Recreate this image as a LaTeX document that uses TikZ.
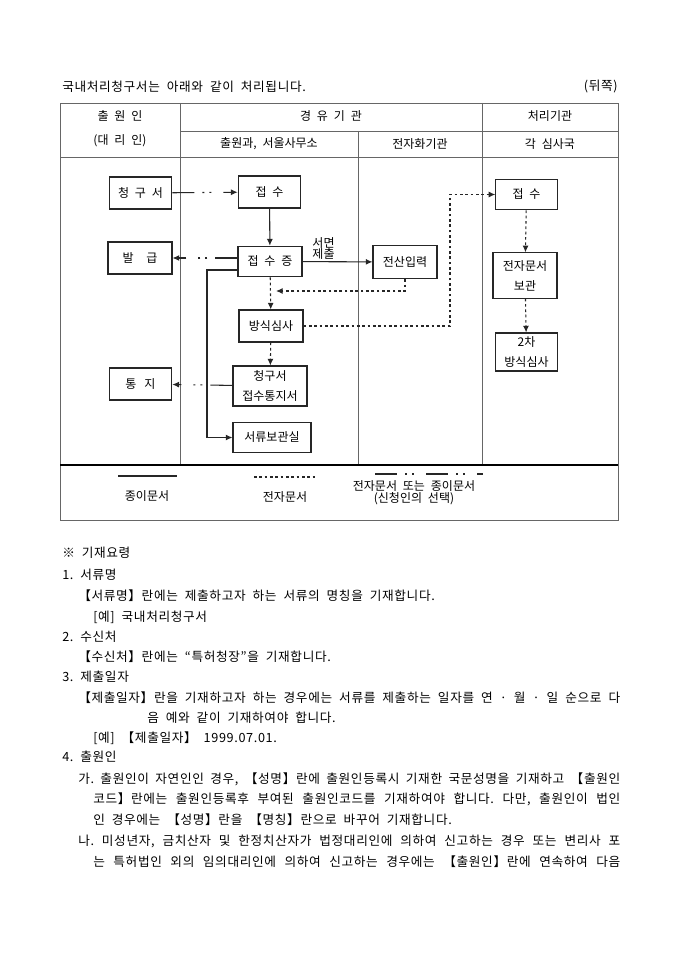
\documentclass[tikz,border=0pt]{standalone}
\usepackage{fontspec}
\setmainfont[WordSpace=2.2]{Noto Sans CJK KR}
\newfontfamily\bodyfont[WordSpace=2, LetterSpace=5]{Noto Sans CJK KR}
\frenchspacing
\usetikzlibrary{arrows.meta, positioning}
\tikzset{
  box/.style={draw=black!85, line width=0.8pt, fill=white, minimum width=47pt, minimum height=24pt,
    inner sep=1pt, align=center, font=\fontsize{9}{15}\selectfont},
  paper/.style={line width=0.8pt, draw=black!85},
  edoc/.style={line width=0.8pt, draw=black!85, dash pattern=on 2pt off 2pt},
  either/.style={line width=0.8pt, draw=black!85, dash pattern=on 16.5pt off 6pt on 1.5pt off 3.75pt on 1.5pt off 9pt},
  arr/.style={-{Latex[length=5pt,width=4.5pt]}},
  tableline/.style={line width=0.7pt, draw=black!60},
  txt/.style={anchor=west, inner sep=0pt, font=\bodyfont\fontsize{9.5}{12}\selectfont},
  cell/.style={inner sep=0pt, font=\fontsize{9}{12}\selectfont},
}

\begin{document}
\begin{tikzpicture}[x=0.75pt, y=-0.75pt]
  \useasboundingbox[fill=white] (0,0) rectangle (680,962);

  \node[txt] (title) at (62,87) {국내처리청구서는 아래와 같이 처리됩니다.};
  \node[txt, anchor=east] (side) at (618,87) {(뒤쪽)};

  % table
  \draw[tableline] (60,103) rectangle (618,520);
  \draw[tableline] (180,131) -- (618,131);
  \draw[tableline] (60,157) -- (618,157);
  \draw[tableline] (180,103) -- (180,465);
  \draw[tableline] (358,131) -- (358,465);
  \draw[tableline] (482,103) -- (482,465);
  \draw[line width=1.1pt] (60,465) -- (618,465);

  \node[cell] (h1) at (120,116) {출 원 인};
  \node[cell] (h2) at (120,141) {(대 리 인)};
  \node[cell] (h3) at (331,116) {경 유 기 관};
  \node[cell] (h4) at (550,116) {처리기관};
  \node[cell] (h5) at (269,144) {출원과, 서울사무소};
  \node[cell] (h6) at (420,144) {전자화기관};
  \node[cell] (h7) at (550,144) {각 심사국};

  % boxes
  \node[box] (req) at (140.5,193) {청 구 서};
  \node[box] (recv) at (269.5,192) {접 수};
  \node[box, minimum width=48pt] (issue) at (140,258) {발\hspace{9.5pt}급};
  \node[box, minimum width=48pt, minimum height=23pt] (slip) at (270,261.5) {접 수 증};
  \node[box, minimum width=48pt, minimum height=25pt] (input) at (405,262) {전산입력};
  \node[box, minimum width=46pt, minimum height=23pt] (recv2) at (526.5,194.5) {접 수};
  \node[box, minimum width=48pt, minimum height=34pt] (store) at (525,275.5) {전자문서\\보관};
  \node[box, minimum height=28.5pt] (check2) at (526.5,352) {2차\\방식심사};
  \node[box, minimum width=48pt] (check) at (271,326) {방식심사};
  \node[box, minimum width=55.5pt, minimum height=30pt] (notice) at (270,386) {청구서\\접수통지서};
  \node[box, minimum width=58.5pt, minimum height=23pt] (archive) at (272,437.5) {서류보관실};
  \node[box] (notify) at (140.5,384) {통\hspace{6pt}지};

  \coordinate (split) at (207,270);
  \coordinate (back) at (276,291);
  \coordinate (turn) at (450,194.5);

  % connectors
  \draw[either, arr] (req) -- (recv);
  \draw[paper, arr] (recv) -- (slip);
  \draw[either, arr] (slip.west |- issue) -- (issue);
  \draw[paper, arr] (slip) -- node[pos=0.3, above, inner sep=1pt, align=center,
    font=\fontsize{9}{8.5}\selectfont] {서면\\제출} (input);
  \draw[paper, arr] (slip.west |- split) -- (split) |- (archive);
  \draw[edoc, arr] (slip) -- (check);
  \draw[edoc, arr] (input.south) |- (back);
  \draw[edoc, arr] (check) -| (turn) -- (recv2);
  \draw[edoc, arr] (check) -- (notice);
  \draw[either, arr] (notice) -- (notify);
  \draw[edoc, arr] (recv2) -- (store);
  \draw[edoc, arr] (store) -- (check2);

  % legend
  \draw[paper] (118,476) -- (177,476);
  \node[cell] (l1) at (147,496) {종이문서};
  \draw[edoc] (254,477) -- (315,477);
  \node[cell] (l2) at (285,497) {전자문서};
  \draw[either] (375,474) -- (483,474);
  \node[cell, align=center, font=\fontsize{9}{8}\selectfont] (l3) at (414,493) {전자문서 또는 종이문서\\(신청인의 선택)};

  % notes
  \node[txt] (n1) at (62,553) {※ 기재요령};
  \node[txt] (n2) at (62,575) {1. 서류명};
  \node[txt] (n3) at (78,596) {【서류명】란에는 제출하고자 하는 서류의 명칭을 기재합니다.};
  \node[txt] (n4) at (93,617) {[예] 국내처리청구서};
  \node[txt] (n5) at (62,637) {2. 수신처};
  \node[txt] (n6) at (78,657) {【수신처】란에는 “특허청장”을 기재합니다.};
  \node[txt] (n7) at (62,677) {3. 제출일자};
  \node[txt] (n8) at (78,698) {\makebox[406.5pt][s]{【제출일자】란을 기재하고자 하는 경우에는 서류를 제출하는 일자를 연 · 월 · 일 순으로 다}};
  \node[txt] (n9) at (147,718) {음 예와 같이 기재하여야 합니다.};
  \node[txt] (n10) at (93,738) {[예] 【제출일자】 1999.07.01.};
  \node[txt] (n11) at (62,757) {4. 출원인};
  \node[txt] (n12) at (78,779) {\makebox[406.5pt][s]{가. 출원인이 자연인인 경우, 【성명】란에 출원인등록시 기재한 국문성명을 기재하고 【출원인}};
  \node[txt] (n13) at (93,799) {\makebox[395.25pt][s]{코드】란에는 출원인등록후 부여된 출원인코드를 기재하여야 합니다. 다만, 출원인이 법인}};
  \node[txt] (n14) at (93,820) {인 경우에는 【성명】란을 【명칭】란으로 바꾸어 기재합니다.};
  \node[txt] (n15) at (78,841) {\makebox[406.5pt][s]{나. 미성년자, 금치산자 및 한정치산자가 법정대리인에 의하여 신고하는 경우 또는 변리사 포}};
  \node[txt] (n16) at (93,862) {\makebox[395.25pt][s]{는 특허법인 외의 임의대리인에 의하여 신고하는 경우에는 【출원인】란에 연속하여 다음}};
\end{tikzpicture}
\end{document}
